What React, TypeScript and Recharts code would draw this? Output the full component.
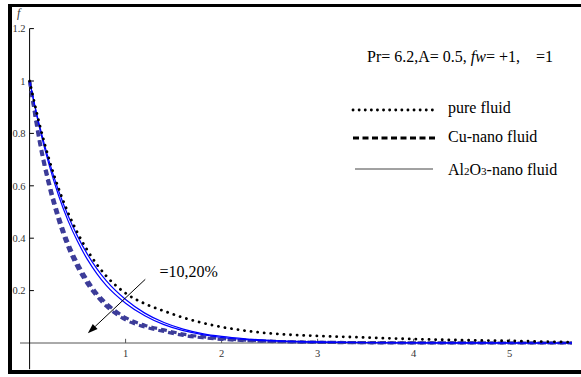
import React from "react";
import { LineChart, Line, XAxis, YAxis, ReferenceLine, ReferenceDot } from "recharts";

// similarity variable eta and f(eta)
const eta = [0, 0.1, 0.2, 0.3, 0.4, 0.5, 0.6, 0.7, 0.8, 1.0, 1.2, 1.4, 1.6, 1.8, 2.0, 2.25, 2.5, 3.0, 3.5, 4.0, 4.5, 5.0, 5.65];
const pureFluid = [1, 0.84, 0.705, 0.592, 0.498, 0.42, 0.355, 0.3, 0.255, 0.19, 0.15, 0.122, 0.097, 0.077, 0.061, 0.047, 0.037, 0.027, 0.021, 0.015, 0.011, 0.008, 0.003];
const al10 = [1, 0.835, 0.698, 0.583, 0.487, 0.407, 0.34, 0.284, 0.237, 0.166, 0.114, 0.078, 0.053, 0.036, 0.025, 0.016, 0.01, 0.004, 0.002, 0.001, 0.0005, 0.0002, 0];
const al20 = [1, 0.826, 0.684, 0.565, 0.467, 0.387, 0.32, 0.265, 0.219, 0.152, 0.104, 0.07, 0.047, 0.032, 0.021, 0.013, 0.008, 0.003, 0.001, 0.0005, 0.0002, 0, 0];
const cu10 = [1, 0.785, 0.62, 0.49, 0.385, 0.305, 0.242, 0.19, 0.152, 0.097, 0.068, 0.05, 0.034, 0.024, 0.017, 0.011, 0.007, 0.003, 0.0015, 0.0007, 0.0003, 0, 0];
const cu20 = [1, 0.77, 0.6, 0.468, 0.365, 0.287, 0.226, 0.178, 0.14, 0.088, 0.061, 0.044, 0.029, 0.02, 0.014, 0.009, 0.006, 0.0025, 0.001, 0.0005, 0.0002, 0, 0];

const xTicks = [1, 2, 3, 4, 5];
const yTicks = [0.2, 0.4, 0.6, 0.8, 1, 1.2];
const yTickLabels = ["0.2", "0.4", "0.6", "0.8", "1", "1.2"];

const arrowFrom = { x: 1.205, y: 0.243 };
const arrowTo = { x: 0.607, y: 0.037 };
const phiLabelAt = { x: 1.354, y: 0.275 };

const data = eta.map((e, i) => ({
  eta: e,
  pure: pureFluid[i],
  al10: al10[i],
  al20: al20[i],
  cu10: cu10[i],
  cu20: cu20[i],
}));

const FONT = '"Liberation Serif", "Times New Roman", serif';

const Arrow = (p: any) => {
  const { x1, y1, x2, y2 } = p;
  const a = Math.atan2(y2 - y1, x2 - x1);
  const L = 10, W = 3.5;
  const bx = x2 - L * Math.cos(a), by = y2 - L * Math.sin(a);
  const pts = `${x2},${y2} ${bx + W * Math.sin(a)},${by - W * Math.cos(a)} ${bx - W * Math.sin(a)},${by + W * Math.cos(a)}`;
  return (
    <g>
      <line x1={x1} y1={y1} x2={bx} y2={by} stroke="#000" strokeWidth={1} />
      <polygon points={pts} fill="#000" />
    </g>
  );
};

const tickLabel = { fontSize: 10.5, fill: "#333", fontFamily: FONT };

export default function App() {
  return (
    <div style={{ position: "fixed", left: 0, top: 0, width: 581, height: 377, overflow: "hidden", background: "#fff", fontFamily: FONT }}>
      <div style={{ position: "absolute", left: 8, top: 4, width: 620, height: 363, borderLeft: "4px solid #000", borderTop: "3px solid #000", borderBottom: "4px solid #000" }} />
      <div style={{ position: "absolute", left: 0, top: 0 }}>
        <LineChart width={581} height={377} data={data} margin={{ top: 28.6, right: 9, bottom: 7.8, left: 20 }}>
          <XAxis dataKey="eta" type="number" domain={[-0.1, 5.65]} hide allowDataOverflow />
          <YAxis type="number" domain={[-0.1, 1.2]} hide allowDataOverflow />
          <ReferenceLine y={0} stroke="#555" strokeWidth={1} />
          <ReferenceLine x={0} stroke="#000" strokeWidth={1} />
          {xTicks.map((v) => (
            <ReferenceLine key={"xt" + v} segment={[{ x: v, y: 0 }, { x: v, y: 0.016 }]} stroke="#555" />
          ))}
          {yTicks.map((v) => (
            <ReferenceLine key={"yt" + v} segment={[{ x: 0, y: v }, { x: 0.045, y: v }]} stroke="#000" />
          ))}
          {xTicks.map((v) => (
            <ReferenceDot key={"xl" + v} x={v} y={0} r={0} stroke="none"
              label={{ value: String(v), position: "bottom", offset: 7, ...tickLabel }} />
          ))}
          {yTicks.map((v, i) => (
            <ReferenceDot key={"yl" + v} x={0} y={v} r={0} stroke="none"
              label={{ value: yTickLabels[i], position: "left", offset: 4, ...tickLabel }} />
          ))}
          <Line dataKey="cu10" type="monotone" stroke="#3c3c99" strokeWidth={3.2} strokeDasharray="6 4" dot={false} isAnimationActive={false} />
          <Line dataKey="cu20" type="monotone" stroke="#3c3c99" strokeWidth={3.2} strokeDasharray="6 4" dot={false} isAnimationActive={false} />
          <Line dataKey="al10" type="monotone" stroke="#0000ff" strokeWidth={1.2} dot={false} isAnimationActive={false} />
          <Line dataKey="al20" type="monotone" stroke="#0000ff" strokeWidth={1.2} dot={false} isAnimationActive={false} />
          <Line dataKey="pure" type="monotone" stroke="#000" strokeWidth={2.8} strokeDasharray="0.1 6.5" strokeLinecap="round" dot={false} isAnimationActive={false} />
          <ReferenceLine segment={[arrowFrom, arrowTo]} shape={Arrow} />
          <ReferenceDot x={phiLabelAt.x} y={phiLabelAt.y} r={0} stroke="none"
            label={{ value: "=10,20%", position: "right", offset: 0, fontSize: 16, fill: "#000", fontFamily: FONT }} />
        </LineChart>
      </div>
      <svg width={581} height={377} style={{ position: "absolute", left: 0, top: 0, pointerEvents: "none" }} fontFamily={FONT}>
        <text x={17} y={17} fontSize={12} fontStyle="italic" fill="#333">f</text>
        <text x={367} y={62} fontSize={16} fill="#000">
          Pr= 6.2,A= 0.5, <tspan fontStyle="italic">fw</tspan>= +1,{"\u00A0\u00A0\u00A0\u00A0"}=1
        </text>
        <line x1={353} y1={110} x2={433} y2={110} stroke="#000" strokeWidth={2.8} strokeDasharray="0.1 6" strokeLinecap="round" />
        <text x={448} y={113} fontSize={16} fill="#000">pure fluid</text>
        <line x1={353} y1={138} x2={435} y2={138} stroke="#000" strokeWidth={3} strokeDasharray="6 3.5" />
        <text x={448} y={142} fontSize={16} fill="#000">Cu-nano fluid</text>
        <line x1={355} y1={169} x2={433} y2={169} stroke="#444" strokeWidth={1} />
        <text x={448} y={175} fontSize={16} fill="#000">
          Al<tspan fontSize={11}>2</tspan>O<tspan fontSize={11}>3</tspan>-nano fluid
        </text>
      </svg>
    </div>
  );
}
